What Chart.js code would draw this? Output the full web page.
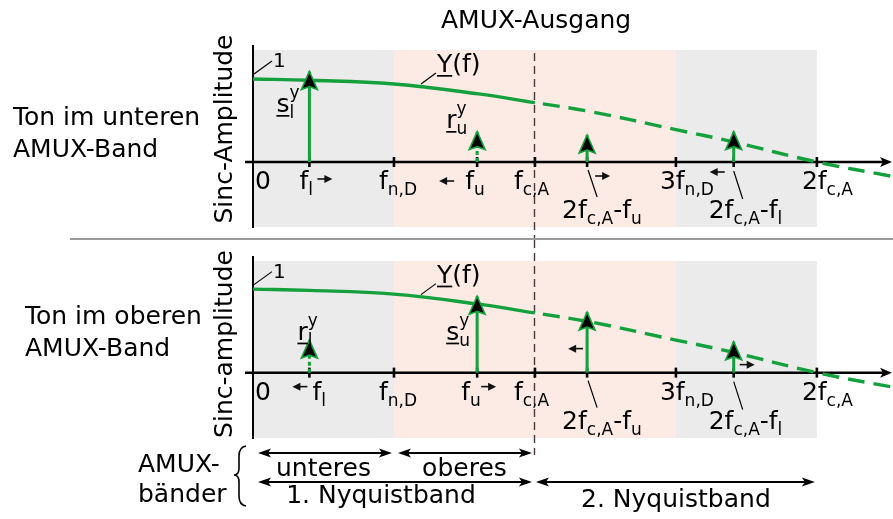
<!DOCTYPE html>
<html><head><meta charset="utf-8">
<script src="https://cdn.jsdelivr.net/npm/chart.js@4"></script>
<style>
html,body{margin:0;padding:0;background:#fff;}
#wrap{position:relative;width:893px;height:519px;overflow:hidden;background:#fff;}
canvas{position:absolute;left:0;}
</style></head><body>
<div id="wrap">
<canvas id="c1" width="893" height="240" style="top:0"></canvas>
<canvas id="c2" width="893" height="279" style="top:240px"></canvas>
</div>
<script>
// ---- data (frequency in units of f_n,D, amplitude relative to Y(0)=1) ----
const grayBands = [[0, 1], [3, 4]];
const pinkBands = [[1, 3]];
const tickPos = [0.4, 1, 1.59, 2, 2.37, 3, 3.41, 4];
const curveX = [0, 0.4, 1, 1.6, 2, 2.4, 3, 3.4, 4, 4.54];
const curveY = [1.0, 0.985, 0.94, 0.82, 0.715, 0.605, 0.39, 0.245, 0, -0.175];
const fL = 0.4, fU = 1.59, fImgU = 2.37, fImgL = 3.41, fNyq = 2;
const stemX = [fL, fU, fImgU, fImgL];
const stemTopPanel = [1.09, 0.365, 0.325, 0.365];     // Ton im unteren AMUX-Band
const stemBottomPanel = [0.39, 0.915, 0.725, 0.37];   // Ton im oberen AMUX-Band
const dashedTopPanel = [false, true, false, false];
const dashedBottomPanel = [true, false, false, false];

const GREEN = '#14a03c';
const F = '"DejaVu Sans", "Liberation Sans", sans-serif';
const BASE = 25, SMALL = 17;

function drawRich(ctx, x, y, segs, base = BASE, small = SMALL) {
  let cx = x, subStart = null;
  ctx.textBaseline = 'alphabetic'; ctx.textAlign = 'left';
  for (const [t, k] of segs) {
    if (k === 'p') {
      ctx.font = small + 'px ' + F;
      const sx = subStart !== null ? subStart : cx;
      ctx.fillText(t, sx, y - 14);
      cx = Math.max(cx, sx + ctx.measureText(t).width);
      continue;
    }
    if (k === 'b') {
      ctx.font = small + 'px ' + F; subStart = cx;
      ctx.fillText(t, cx, y + 6); cx += ctx.measureText(t).width; continue;
    }
    ctx.font = base + 'px ' + F; ctx.fillText(t, cx, y);
    const w = ctx.measureText(t).width;
    if (k === 'u') ctx.fillRect(cx, y + 3, w, 1.7);
    cx += w; subStart = null;
  }
  return cx - x;
}
function line(ctx, x1, y1, x2, y2, w = 1.3, col = '#000') {
  ctx.save(); ctx.strokeStyle = col; ctx.lineWidth = w;
  ctx.beginPath(); ctx.moveTo(x1, y1); ctx.lineTo(x2, y2); ctx.stroke(); ctx.restore();
}
function smallArrow(ctx, x1, x2, y) { // arrow from x1 to x2 (head at x2)
  const d = Math.sign(x2 - x1);
  ctx.save(); ctx.strokeStyle = '#111'; ctx.fillStyle = '#111'; ctx.lineWidth = 1.6;
  ctx.beginPath(); ctx.moveTo(x1, y); ctx.lineTo(x2 - d * 5, y); ctx.stroke();
  ctx.beginPath(); ctx.moveTo(x2, y); ctx.lineTo(x2 - d * 8, y - 4); ctx.lineTo(x2 - d * 8, y + 4); ctx.closePath(); ctx.fill();
  ctx.restore();
}
function headAt(ctx, x, y, d) {
  ctx.beginPath(); ctx.moveTo(x, y); ctx.lineTo(x - d * 13, y - 4.5); ctx.lineTo(x - d * 10, y); ctx.lineTo(x - d * 13, y + 4.5); ctx.closePath(); ctx.fill();
}
function dblArrow(ctx, x1, x2, y) {
  ctx.save(); ctx.strokeStyle = '#000'; ctx.fillStyle = '#000'; ctx.lineWidth = 2;
  ctx.beginPath(); ctx.moveTo(x1 + 8, y); ctx.lineTo(x2 - 8, y); ctx.stroke();
  headAt(ctx, x2, y, 1); headAt(ctx, x1, y, -1);
  ctx.restore();
}
function arrowHead(ctx, x, tip) {
  ctx.save();
  ctx.beginPath(); ctx.moveTo(x, tip); ctx.lineTo(x + 8, tip + 18); ctx.lineTo(x, tip + 15); ctx.lineTo(x - 8, tip + 18); ctx.closePath();
  ctx.fillStyle = '#000'; ctx.fill(); ctx.strokeStyle = GREEN; ctx.lineWidth = 1.6; ctx.lineJoin = 'miter'; ctx.stroke();
  ctx.restore();
}

function makePanel(canvas, panel, stems, dashed, pad, ymin, ymax) {
  const pts = curveX.map((x, i) => ({ x, y: curveY[i] }));
  const datasets = [
    { data: pts.filter(p => p.x <= fNyq), borderColor: GREEN, borderWidth: 3.4, pointRadius: 0, tension: 0.4 },
    { data: pts.filter(p => p.x >= fNyq), borderColor: GREEN, borderWidth: 3.4, pointRadius: 0, tension: 0.4, borderDash: [17, 9], borderDashOffset: 18 }
  ];
  stemX.forEach((x, i) => datasets.push({
    data: [{ x, y: 0 }, { x, y: stems[i] }], borderColor: GREEN, borderWidth: 3, pointRadius: 0, tension: 0,
    borderDash: dashed[i] ? [4, 3] : [], isStem: true
  }));

  const deco = {
    id: 'deco',
    beforeDatasetsDraw(chart) {
      const ctx = chart.ctx, a = chart.chartArea, xs = chart.scales.x, ys = chart.scales.y;
      const px = v => xs.getPixelForValue(v), y0 = ys.getPixelForValue(0);
      ctx.save();
      ctx.fillStyle = '#ebebeb';
      grayBands.forEach(([s, e]) => ctx.fillRect(px(s), a.top, px(e) - px(s), a.bottom - a.top));
      ctx.fillStyle = '#fcebe5';
      pinkBands.forEach(([s, e]) => ctx.fillRect(px(s), a.top, px(e) - px(s), a.bottom - a.top));
      // Nyquist dashed line
      const xn = Math.round(px(fNyq)) - 0.5;
      ctx.strokeStyle = '#4a3838'; ctx.lineWidth = 1.4; ctx.setLineDash([8, 5]);
      ctx.beginPath();
      if (panel === 0) { ctx.moveTo(xn, a.top + 3); ctx.lineTo(xn, 240); }
      else { ctx.moveTo(xn, 0); ctx.lineTo(xn, 215); }
      ctx.stroke(); ctx.setLineDash([]);
      // y axis
      line(ctx, px(0), a.top - 5, px(0), a.bottom + 1, 2);
      // x axis
      line(ctx, px(0) - 8, y0, chart.width - 9, y0, 2.5);
      ctx.fillStyle = '#000';
      ctx.beginPath(); ctx.moveTo(chart.width - 1, y0); ctx.lineTo(chart.width - 13, y0 - 5); ctx.lineTo(chart.width - 10, y0); ctx.lineTo(chart.width - 13, y0 + 5); ctx.closePath(); ctx.fill();
      tickPos.forEach(v => line(ctx, px(v), y0 - 5, px(v), y0 + 5, 2.6));
      ctx.restore();
    },
    afterDatasetsDraw(chart) {
      const ctx = chart.ctx;
      chart.data.datasets.forEach((ds, i) => {
        if (!ds.isStem) return;
        const p = chart.getDatasetMeta(i).data[1];
        arrowHead(ctx, p.x, p.y);
      });
    },
    afterDraw(chart) {
      const ctx = chart.ctx, xs = chart.scales.x, ys = chart.scales.y;
      const px = v => xs.getPixelForValue(v), y0 = ys.getPixelForValue(0);
      ctx.save(); ctx.fillStyle = '#000';
      const r1 = y0 + 27, r2 = y0 + 56;
      // tick labels
      ctx.font = BASE + 'px ' + F; ctx.fillText('0', px(0) + 2, r1);
      drawRich(ctx, px(1) - 15, r1, [['f', 'n'], ['n,D', 'b']]);
      drawRich(ctx, px(2) - 21, r1, [['f', 'n'], ['c,A', 'b']]);
      drawRich(ctx, px(3) - 16, r1, [['3f', 'n'], ['n,D', 'b']]);
      drawRich(ctx, px(4) - 15, r1, [['2f', 'n'], ['c,A', 'b']]);
      drawRich(ctx, px(fImgU) - 25, r2, [['2f', 'n'], ['c,A', 'b'], ['-f', 'n'], ['u', 'b']]);
      drawRich(ctx, px(fImgL) - 25, r2, [['2f', 'n'], ['c,A', 'b'], ['-f', 'n'], ['l', 'b']]);
      line(ctx, px(fImgU) + 1, y0 + 8, px(fImgU) + 10, y0 + 35, 1.2);
      line(ctx, px(fImgL), y0 + 9, px(fImgL) + 9, y0 + 37, 1.2);
      // Y(f) label and leader
      drawRich(ctx, px(1) + 43, y0 - 90, [['Y', 'u'], ['(f)', 'n']]);
      line(ctx, px(1) + 27, y0 - 78, px(1) + 42, y0 - 89, 1.2);
      ctx.font = '20px ' + F; ctx.fillText('1', px(0) + 20, y0 - 95);
      line(ctx, px(0) + 1, y0 - 88, px(0) + 19, y0 - 101, 1.2);
      const ytitle = (t, cy) => {
        ctx.save(); ctx.translate(232, cy); ctx.rotate(-Math.PI / 2);
        ctx.font = BASE + 'px ' + F; ctx.textAlign = 'center'; ctx.fillText(t, 0, 0); ctx.restore();
      };
      if (panel === 0) {
        drawRich(ctx, px(fL) - 10, r1, [['f', 'n'], ['l', 'b']]);
        smallArrow(ctx, px(fL) + 8, px(fL) + 23, y0 + 17);
        smallArrow(ctx, px(fU) - 23, px(fU) - 38, y0 + 19);
        drawRich(ctx, px(fU) - 12, r1, [['f', 'n'], ['u', 'b']]);
        smallArrow(ctx, px(fImgU) + 8, px(fImgU) + 23, y0 + 14);
        smallArrow(ctx, px(fImgL) - 9, px(fImgL) - 24, y0 + 10);
        drawRich(ctx, px(fL) - 33, y0 - 50, [['s', 'u'], ['l', 'b'], ['y', 'p']]);
        drawRich(ctx, px(fU) - 31, y0 - 34, [['r', 'u'], ['u', 'b'], ['y', 'p']]);
        ctx.font = BASE + 'px ' + F; ctx.textAlign = 'left';
        ctx.fillText('AMUX-Ausgang', 441, 28);
        ctx.fillText('Ton im unteren', 13, 125);
        ctx.fillText('AMUX-Band', 13, 157);
        ytitle('Sinc-Amplitude', 129);
        line(ctx, 70, 239, 893, 239, 2, '#9a9a9a');
      } else {
        drawRich(ctx, px(fL) + 3, r1, [['f', 'n'], ['l', 'b']]);
        smallArrow(ctx, px(fL) - 2, px(fL) - 17, y0 + 14);
        drawRich(ctx, px(fU) - 16, r1, [['f', 'n'], ['u', 'b']]);
        smallArrow(ctx, px(fU) + 4, px(fU) + 19, y0 + 14);
        smallArrow(ctx, px(fImgU) - 4, px(fImgU) - 19, y0 - 24);
        smallArrow(ctx, px(fImgL) + 6, px(fImgL) + 21, y0 - 8);
        drawRich(ctx, px(fL) - 12, y0 - 33, [['r', 'u'], ['l', 'b'], ['y', 'p']]);
        drawRich(ctx, px(fU) - 31, y0 - 33, [['s', 'u'], ['u', 'b'], ['y', 'p']]);
        ctx.font = BASE + 'px ' + F; ctx.textAlign = 'left';
        ctx.fillText('Ton im oberen', 25, 84);
        ctx.fillText('AMUX-Band', 25, 116);
        ytitle('Sinc-amplitude', 104);
        // band annotations
        ctx.fillText('AMUX-', 138, 232);
        ctx.fillText('bänder', 138, 262);
        ctx.save(); ctx.strokeStyle = '#000'; ctx.lineWidth = 1.6; ctx.beginPath();
        ctx.moveTo(246, 206); ctx.quadraticCurveTo(239, 207, 239, 216); ctx.lineTo(239, 228);
        ctx.quadraticCurveTo(239, 235, 234, 235); ctx.quadraticCurveTo(239, 235, 239, 242);
        ctx.lineTo(239, 256); ctx.quadraticCurveTo(239, 265, 246, 266); ctx.stroke(); ctx.restore();
        dblArrow(ctx, px(0) + 5, px(1) - 2, 213);
        dblArrow(ctx, px(1) + 4, px(2) - 3, 213);
        dblArrow(ctx, px(0) + 5, px(2) - 3, 242);
        dblArrow(ctx, px(2) + 1, px(4) - 2, 242);
        ctx.textAlign = 'center';
        ctx.fillText('unteres', (px(0) + px(1)) / 2, 236);
        ctx.fillText('oberes', (px(1) + px(2)) / 2, 236);
        ctx.fillText('1. Nyquistband', px(1) - 13, 263);
        ctx.fillText('2. Nyquistband', (px(2) + px(4)) / 2, 267);
      }
      ctx.restore();
    }
  };

  return new Chart(canvas, {
    type: 'line',
    data: { datasets },
    options: {
      responsive: false, animation: false, devicePixelRatio: 1,
      layout: { padding: pad },
      scales: {
        x: { type: 'linear', min: 0, max: 4.54, display: false },
        y: { min: ymin, max: ymax, display: false }
      },
      plugins: { legend: { display: false }, tooltip: { enabled: false } }
    },
    plugins: [deco]
  });
}

makePanel(document.getElementById('c1'), 0, stemTopPanel, dashedTopPanel,
  { left: 253, right: 0, top: 50, bottom: 13 }, -0.783, 1.349);
makePanel(document.getElementById('c2'), 1, stemBottomPanel, dashedBottomPanel,
  { left: 253, right: 0, top: 21, bottom: 81 }, -0.783, 1.337);
</script>
</body></html>
